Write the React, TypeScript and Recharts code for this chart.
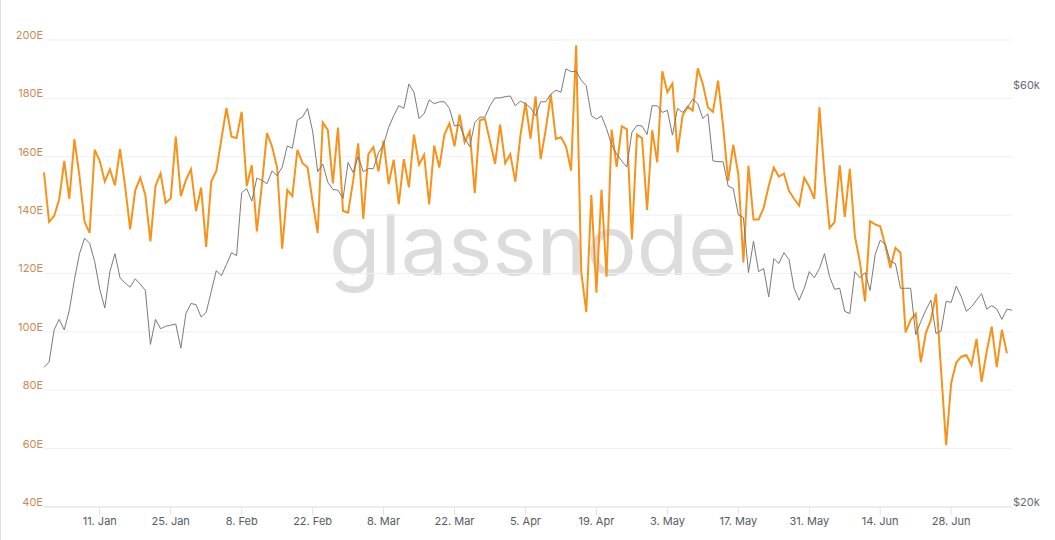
import { CartesianGrid, ComposedChart, Line, XAxis, YAxis } from "recharts";

// daily values, day 0 = 31 Dec 2020
const hashRate: (number | null)[] = [
  154.6, 137.7, 139.7, 145.4, 158.6, 145.6, 166.0, 153.4, 137.7, 133.9,
  162.4, 158.6, 151.5, 155.7, 150.2, 162.6, 150.0, 135.1, 148.5, 152.8,
  146.8, 131.0, 150.0, 154.3, 144.2, 145.7, 166.9, 146.5, 152.0, 155.7,
  141.4, 149.4, 129.1, 151.5, 155.1, 166.0, 176.7, 166.9, 166.4, 175.4,
  150.0, 157.1, 134.4, 150.5, 168.1, 163.5, 156.3, 128.5, 148.6, 146.5,
  162.4, 157.8, 156.3, 144.6, 133.9, 171.7, 169.2, 150.9, 170.0, 141.4,
  140.8, 151.7, 164.6, 138.7, 160.9, 163.3, 155.0, 165.5, 150.6, 159.0,
  143.8, 159.2, 149.5, 167.6, 157.3, 160.7, 143.7, 163.8, 156.3, 167.6,
  171.4, 163.6, 174.4, 165.0, 168.7, 147.5, 172.5, 173.0, 165.3, 157.6,
  171.0, 157.8, 160.9, 151.5, 167.2, 178.5, 166.2, 180.7, 159.2, 169.3,
  181.3, 166.1, 166.7, 163.6, 155.3, 198.2, 120.6, 106.8, 146.9, 113.4,
  148.7, 118.9, 169.3, 156.5, 170.4, 169.5, 131.7, 167.6, 166.4, 141.8,
  169.1, 158.1, 189.3, 182.1, 185.1, 161.5, 174.1, 177.1, 175.8, 190.3,
  184.9, 176.9, 175.4, 186.1, 170.6, 151.7, 164.1, 154.0, 123.8, 156.9,
  138.5, 138.5, 142.5, 150.0, 156.3, 153.2, 154.2, 148.3, 145.6, 143.3,
  152.8, 149.7, 145.6, 176.9, 154.0, 135.6, 137.6, 157.1, 139.4, 155.9,
  132.8, 123.8, 110.4, 137.9, 136.8, 136.2, 129.6, 121.9, 128.8, 127.1,
  99.8, 104.1, 106.2, 89.6, 99.6, 104.1, 113.0, 87.0, 61.2, 82.4,
  89.5, 91.5, 92.1, 88.7, 97.6, 82.9, 93.2, 101.8, 87.9, 100.7,
  92.7, null,
];

// price in $k
const btcPrice: number[] = [
  28.9, 29.3, 31.9, 32.8, 31.9, 33.6, 36.4, 39.0, 40.6, 40.1,
  38.2, 35.5, 33.8, 37.2, 39.0, 36.6, 36.1, 35.7, 36.5, 36.0,
  35.4, 30.7, 32.8, 32.0, 32.2, 32.3, 32.4, 30.4, 33.3, 34.2,
  34.1, 33.0, 33.4, 35.3, 37.3, 36.8, 37.9, 39.1, 38.8, 45.8,
  46.3, 44.8, 47.6, 47.3, 46.9, 48.5, 47.9, 49.0, 51.8, 51.5,
  55.5, 55.9, 57.2, 53.9, 48.4, 49.4, 47.1, 46.2, 46.1, 45.1,
  49.6, 48.3, 50.4, 48.4, 48.8, 48.8, 50.9, 52.0, 54.4, 56.1,
  57.6, 57.2, 61.0, 59.7, 55.7, 56.4, 58.5, 57.9, 58.2, 58.2,
  57.2, 54.6, 54.8, 52.9, 51.7, 55.1, 55.9, 55.9, 57.6, 58.8,
  58.8, 59.0, 59.1, 57.6, 58.3, 57.9, 57.3, 56.1, 58.2, 58.2,
  59.4, 60.0, 59.7, 63.5, 63.0, 63.1, 61.6, 60.7, 56.1, 55.6,
  56.1, 54.2, 52.0, 50.7, 49.8, 49.0, 53.7, 54.7, 54.6, 53.4,
  57.6, 57.6, 56.6, 56.9, 53.3, 57.2, 56.6, 57.4, 58.6, 57.9,
  55.7, 56.4, 49.8, 49.7, 49.7, 46.6, 46.3, 43.2, 42.9, 37.1,
  40.3, 37.2, 37.5, 34.8, 38.5, 38.0, 39.1, 38.4, 35.6, 34.5,
  35.6, 37.2, 36.6, 37.5, 39.0, 36.7, 35.5, 35.6, 33.5, 33.3,
  37.2, 36.6, 37.1, 35.4, 38.9, 40.4, 40.0, 38.2, 38.0, 35.6,
  35.6, 35.6, 31.5, 32.6, 33.6, 34.5, 31.6, 31.8, 34.4, 34.3,
  35.8, 34.8, 33.5, 33.9, 34.5, 35.1, 33.7, 34.0, 33.7, 32.8,
  33.7, 33.6,
];

const xTicks = [11, 25, 39, 53, 67, 81, 95, 109, 123, 137, 151, 165, 179];
const xTickLabels = [
  "11. Jan", "25. Jan", "8. Feb", "22. Feb", "8. Mar", "22. Mar", "5. Apr",
  "19. Apr", "3. May", "17. May", "31. May", "14. Jun", "28. Jun",
];
const leftTicks = [40, 60, 80, 100, 120, 140, 160, 180, 200];
const rightTicks = [20, 60];

const data = btcPrice.map((price, day) => ({ day, price, hash: hashRate[day] ?? null }));

const FONT = "Inter, 'Noto Sans', sans-serif";

function LeftTick(props: any) {
  const { x, y, payload } = props;
  return (
    <text x={x} y={y - 5} dy="0.355em" textAnchor="end" fill="#cc8a52" fontSize={11} fontFamily={FONT}>
      {`${payload.value}E`}
    </text>
  );
}

function RightTick(props: any) {
  const { x, y, payload } = props;
  return (
    <text x={x} y={y - 5} dy="0.355em" textAnchor="start" fill="#666b78" fontSize={11} fontFamily={FONT}>
      {`$${payload.value}k`}
    </text>
  );
}

function BottomTick(props: any) {
  const { x, y, payload } = props;
  const idx = xTicks.indexOf(payload.value);
  return (
    <text x={x} y={y} dy="0.71em" textAnchor="middle" fill="#555b66" fontSize={11} fontFamily={FONT}>
      {xTickLabels[idx] ?? ""}
    </text>
  );
}

export default function App() {
  return (
    <div style={{ position: "absolute", left: 0, top: 0, width: 1055, height: 540, background: "#fff" }}>
      <div style={{ position: "absolute", left: 0, top: 0, width: 1, height: 540, background: "#e2e2e2" }} />
      <svg width={1055} height={540} style={{ position: "absolute", left: 0, top: 0 }}>
        <text x={329} y={275} fontSize={84} fill="#dcdcdc" fontFamily={FONT}>
          glassnode
        </text>
      </svg>
      <div style={{ position: "absolute", left: 0, top: 0 }}>
        <ComposedChart width={1055} height={540} data={data} margin={{ top: 40, right: 0, bottom: 3, left: 0 }}>
          <CartesianGrid vertical={false} stroke="#efefef" yAxisId="left" />
          <XAxis
            dataKey="day"
            type="number"
            domain={[0, 191]}
            ticks={xTicks}
            tick={<BottomTick />}
            tickSize={8}
            tickMargin={2}
            tickLine={{ stroke: "#e3e3e3" }}
            axisLine={{ stroke: "#e3e3e3" }}
            height={30}
            interval={0}
          />
          <YAxis
            yAxisId="left"
            orientation="left"
            type="number"
            domain={[40, 200]}
            ticks={leftTicks}
            tick={<LeftTick />}
            tickSize={0}
            tickMargin={1}
            axisLine={false}
            tickLine={false}
            width={44}
            interval={0}
          />
          <YAxis
            yAxisId="right"
            orientation="right"
            type="number"
            scale="log"
            domain={[20, 68.5]}
            allowDataOverflow
            ticks={rightTicks}
            tick={<RightTick />}
            tickSize={0}
            tickMargin={1}
            axisLine={false}
            tickLine={false}
            width={43}
            interval={0}
          />
          <Line
            yAxisId="left"
            type="linear"
            dataKey="hash"
            stroke="#f7931a"
            strokeWidth={2}
            dot={false}
            isAnimationActive={false}
          />
          <Line
            yAxisId="right"
            type="linear"
            dataKey="price"
            stroke="#7a7a7a"
            strokeWidth={1}
            dot={false}
            isAnimationActive={false}
          />
        </ComposedChart>
      </div>
    </div>
  );
}
